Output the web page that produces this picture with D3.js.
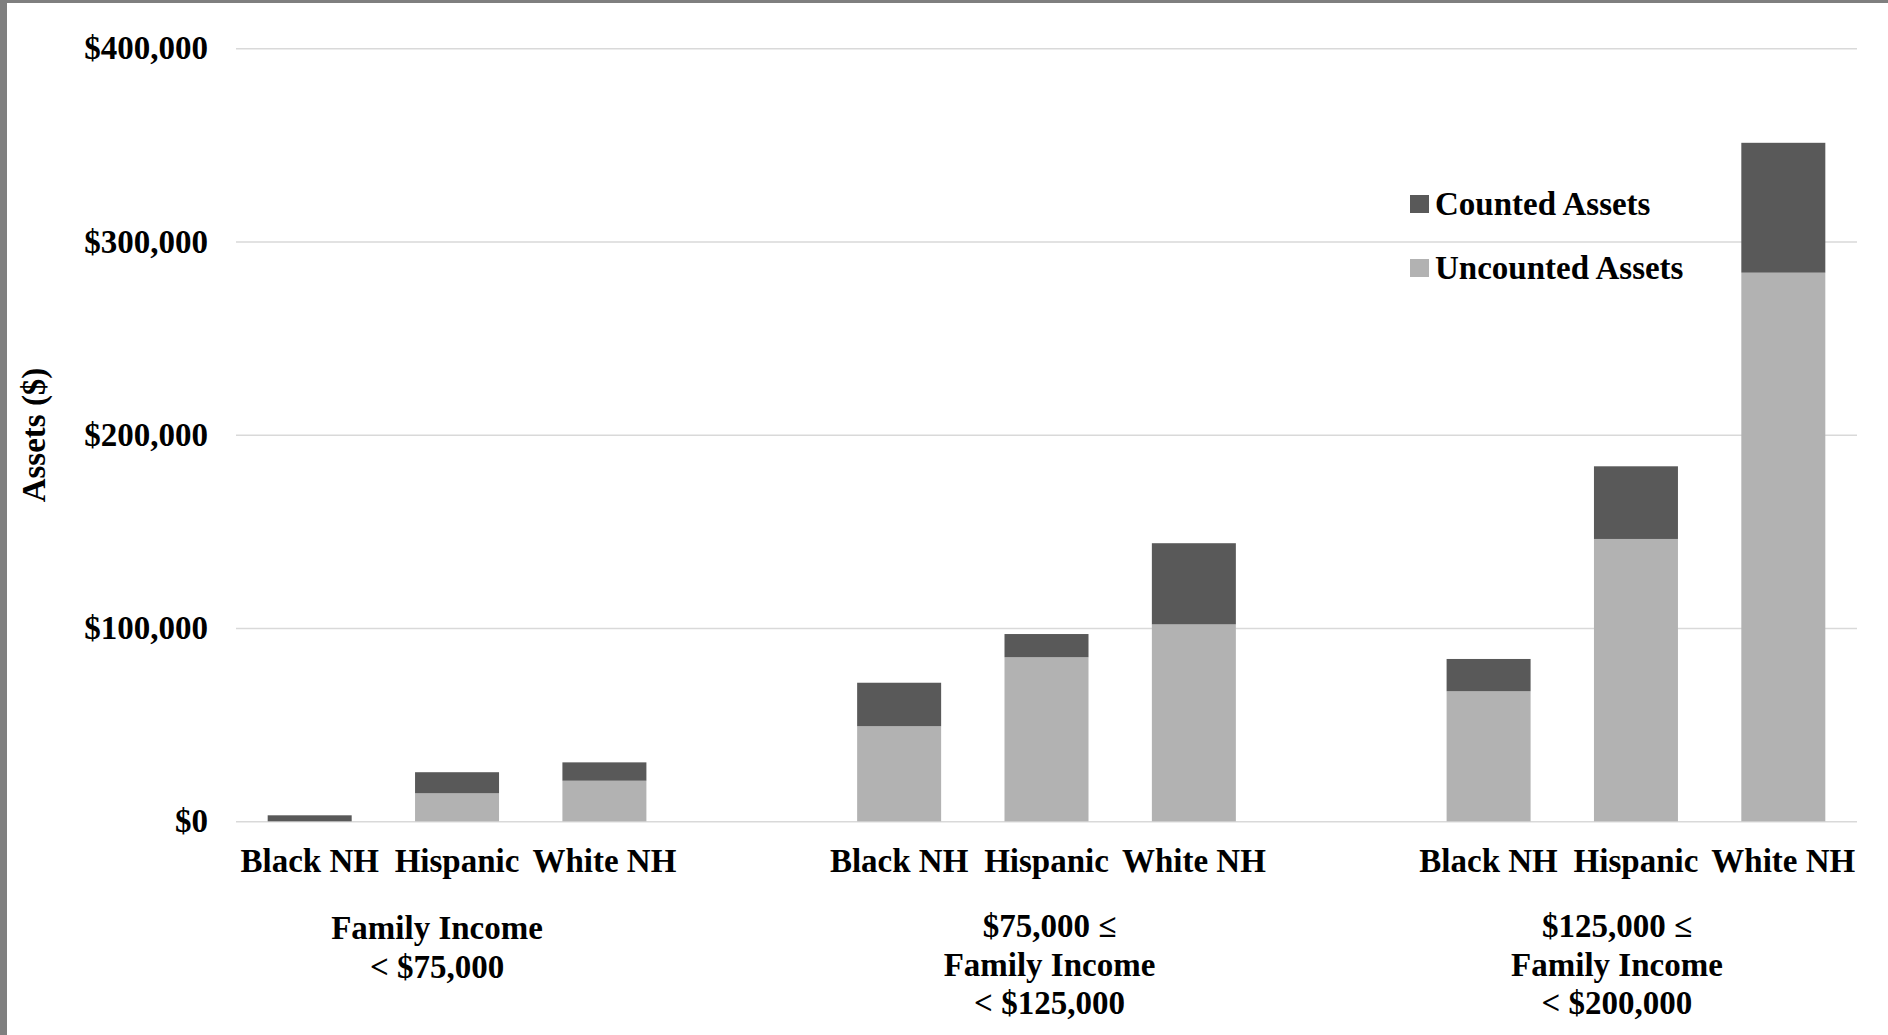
<!DOCTYPE html>
<html>
<head>
<meta charset="utf-8">
<script src="https://cdn.jsdelivr.net/npm/d3@7"></script>
<style>
  html, body { margin: 0; padding: 0; background: #fff; }
  svg { display: block; font-family: "Liberation Serif", "Times New Roman", serif; font-weight: bold; }
</style>
</head>
<body>
<svg id="chart" width="1888" height="1035"></svg>
<script>
// Income brackets (multi-line group labels) and race/ethnicity categories
const groups = ["lt75", "75to125", "125to200"];
const groupLabels = [
  ["Family Income", "< $75,000"],
  ["$75,000 \u2264", "Family Income", "< $125,000"],
  ["$125,000 \u2264", "Family Income", "< $200,000"]
];
const races = ["Black NH", "Hispanic", "White NH"];

// Mean assets in dollars, per bracket, per race
const uncountedAssets = [
  [0, 14500, 21000],
  [49200, 84900, 101900],
  [67300, 146100, 283900]
];
const countedAssets = [
  [3100, 10900, 9500],
  [22500, 12000, 42000],
  [16700, 37600, 67200]
];

const seriesNames = ["Counted Assets", "Uncounted Assets"];
const yTicks = [0, 100000, 200000, 300000, 400000];

const colors = { "Counted Assets": "#595959", "Uncounted Assets": "#b2b2b2" };

const svg = d3.select("#chart");
const W = 1888, H = 1035;

// page frame (grey edge at top and left)
svg.append("rect").attr("x", 0).attr("y", 0).attr("width", W).attr("height", 3).attr("fill", "#7f7f7f");
svg.append("rect").attr("x", 0).attr("y", 0).attr("width", 7).attr("height", H).attr("fill", "#7f7f7f");

const plot = { left: 236, right: 1857, top: 48.3, bottom: 821.3 };

const y = d3.scaleLinear().domain([0, 400000]).range([plot.bottom, plot.top]);

const xGroup = d3.scaleBand().domain(groups).range([plot.left, plot.right])
  .paddingInner(0.25).paddingOuter(0);
const xRace = d3.scaleBand().domain(races).range([0, xGroup.bandwidth()])
  .paddingInner(0.43).paddingOuter(0.215);

// gridlines and value labels
const yAxis = d3.axisLeft(y).tickValues(yTicks)
  .tickSize(-(plot.right - plot.left))
  .tickFormat(d => "$" + d3.format(",")(d))
  .tickPadding(28);
const gy = svg.append("g").attr("transform", `translate(${plot.left},0)`).call(yAxis);
gy.select(".domain").remove();
gy.selectAll(".tick line").attr("stroke", "#d9d9d9").attr("stroke-width", 1.5);
gy.selectAll(".tick text")
  .attr("font-family", "Liberation Serif, Times New Roman, serif")
  .attr("font-weight", "bold")
  .attr("font-size", 33)
  .attr("fill", "#000");

// flatten rows for stacking
const rows = [];
groups.forEach((g, gi) => races.forEach((r, ri) => {
  rows.push({ group: g, race: r,
    "Uncounted Assets": uncountedAssets[gi][ri],
    "Counted Assets": countedAssets[gi][ri] });
}));
const stack = d3.stack().keys(["Uncounted Assets", "Counted Assets"]);
const layers = stack(rows);

svg.append("g").selectAll("g").data(layers).join("g")
  .attr("fill", d => colors[d.key])
  .selectAll("rect").data(d => d).join("rect")
  .attr("x", d => xGroup(d.data.group) + xRace(d.data.race))
  .attr("width", xRace.bandwidth())
  .attr("y", d => y(d[1]))
  .attr("height", d => y(d[0]) - y(d[1]));

// race labels under each bar
svg.append("g").selectAll("text").data(rows).join("text")
  .attr("x", d => xGroup(d.group) + xRace(d.race) + xRace.bandwidth() / 2)
  .attr("y", 872)
  .attr("text-anchor", "middle")
  .attr("font-size", 33)
  .attr("fill", "#000")
  .text(d => d.race);

// bracket labels (slightly offset like the spreadsheet layout)
const groupLabelShift = [-20, 3, -19];
groups.forEach((g, gi) => {
  const cx = xGroup(g) + xGroup.bandwidth() / 2 + groupLabelShift[gi];
  const t = svg.append("text")
    .attr("text-anchor", "middle")
    .attr("font-size", 33)
    .attr("fill", "#000");
  groupLabels[gi].forEach((line, li) => {
    t.append("tspan").attr("x", cx).attr("y", (gi === 0 ? 939 : 937) + li * 38.5).text(line);
  });
});

// y-axis title
svg.append("text")
  .attr("transform", "translate(45,435) rotate(-90)")
  .attr("text-anchor", "middle")
  .attr("font-size", 33)
  .attr("fill", "#000")
  .text("Assets ($)");

// legend
const legend = svg.append("g");
seriesNames.forEach((name, i) => {
  const cy = 204 + i * 64;
  legend.append("rect").attr("x", 1410).attr("y", cy - 9).attr("width", 19).attr("height", 18)
    .attr("fill", colors[name]);
  legend.append("text").attr("x", 1435).attr("y", cy + 11)
    .attr("font-size", 33).attr("fill", "#000").text(name);
});
</script>
</body>
</html>
